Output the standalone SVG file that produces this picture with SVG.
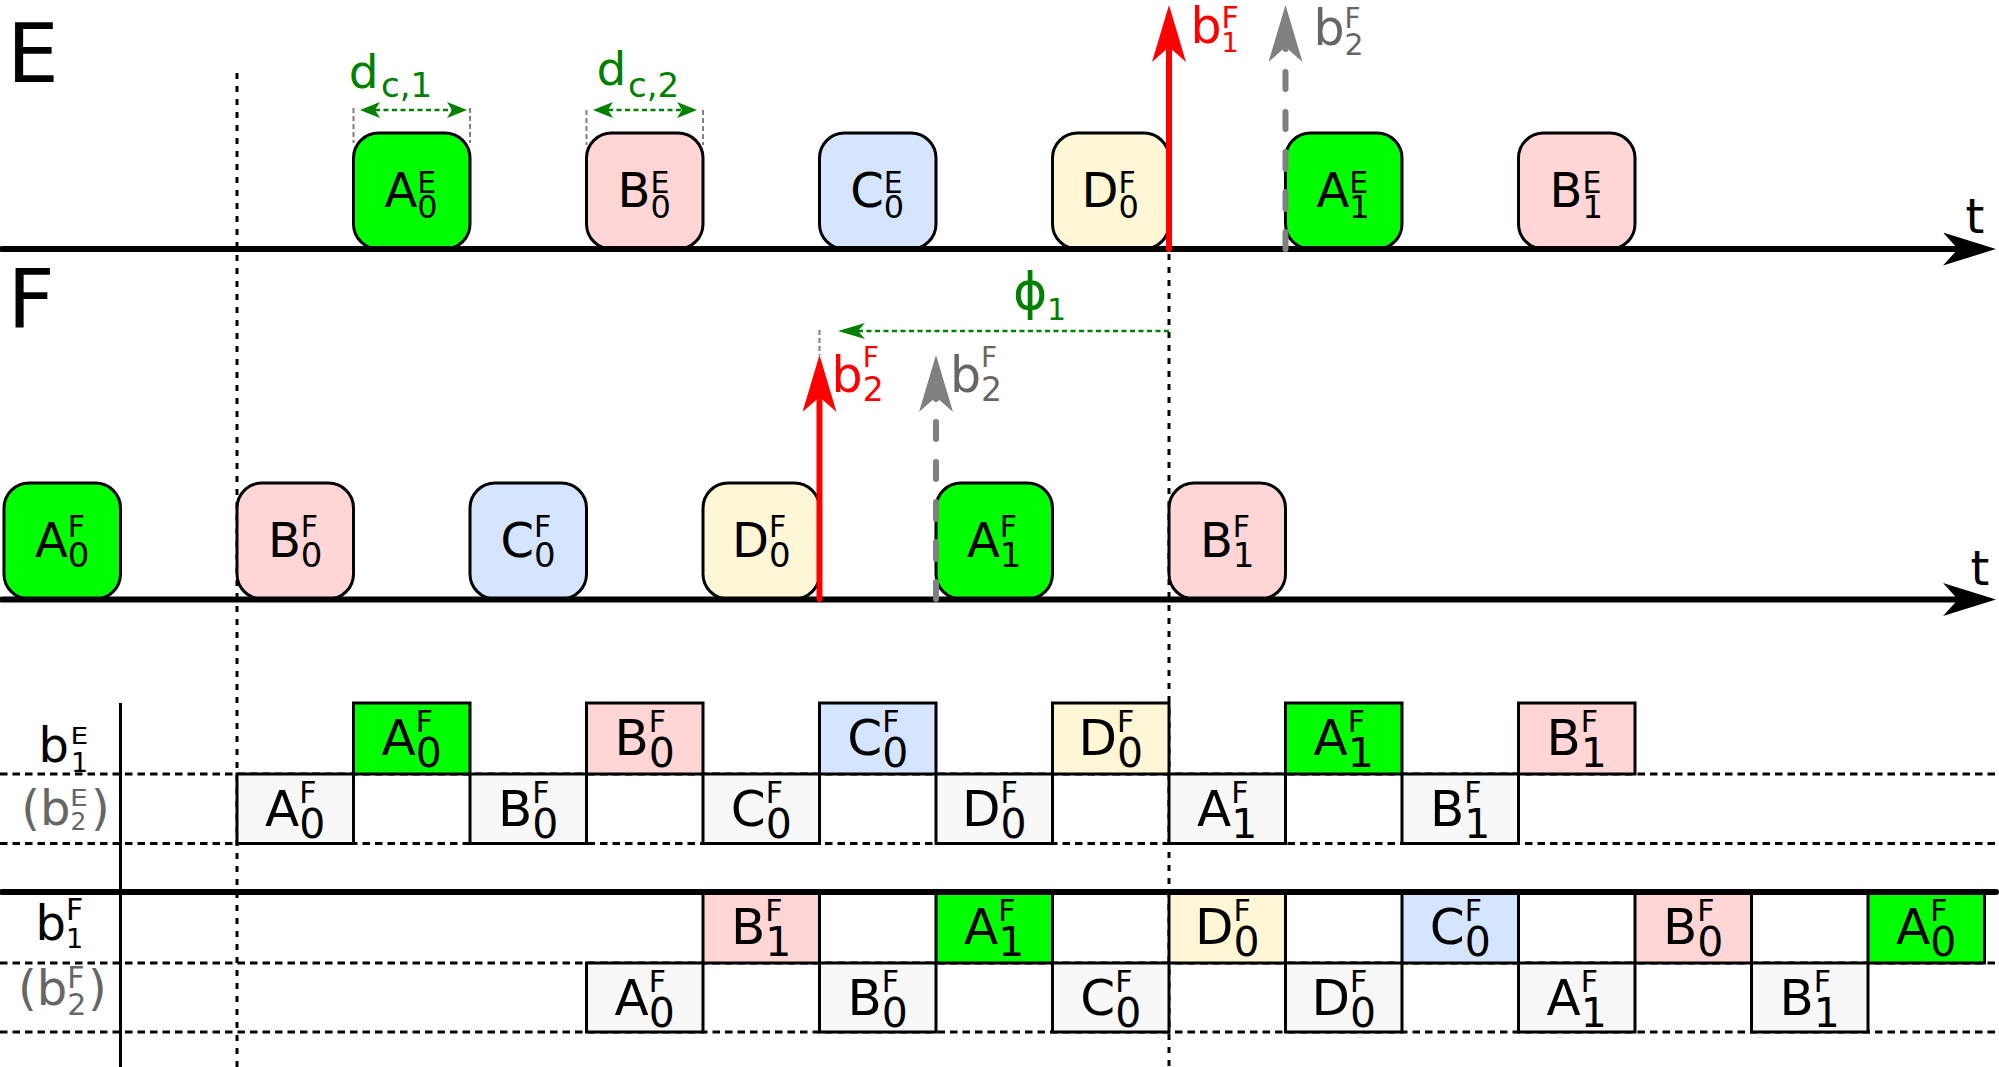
<svg xmlns="http://www.w3.org/2000/svg" width="1999" height="1067" viewBox="0 0 1999 1067">
<style>
text{font-family:'DejaVu Sans','Liberation Sans',sans-serif;fill:#000}
.rb{stroke:#000;stroke-width:3}
.tb{stroke:#000;stroke-width:3}
.g{fill:#00ff00}.p{fill:#ffd5d5}.bl{fill:#d5e5ff}.y{fill:#fff6d5}.w{fill:#f8f8f8}
.dotv{stroke:#000;stroke-width:3;stroke-dasharray:6 7;fill:none}
.doth{stroke:#000;stroke-width:3;stroke-dasharray:7.5 5;fill:none}
.ext{stroke:#808080;stroke-width:2;stroke-dasharray:5 3;fill:none}
.axis{stroke:#000;stroke-width:6;stroke-linecap:round;fill:none}
.red{stroke:#f00;stroke-width:6;stroke-linecap:round;fill:none}
.gray{stroke:#808080;stroke-width:6;stroke-linecap:round;stroke-dasharray:17 23;fill:none}
.grn{stroke:#008000;stroke-width:2.5;stroke-dasharray:5 3.5;fill:none}
.eb .m{font-size:48px}.eb .u{font-size:30px}.eb .d{font-size:32px}
.fb .m{font-size:48px}.fb .u{font-size:30px}.fb .d{font-size:34px}
.tl .m{font-size:50px}.tl .u{font-size:30px}.tl .d{font-size:41px}
.big{font-size:82px}
.tt{font-size:48px}
text.gt,.gt tspan{fill:#008000}
text.rt,.rt tspan{fill:#f00}
text.gy,.gy tspan{fill:#666}
</style>
<defs>
<marker id="mAxis" markerUnits="userSpaceOnUse" viewBox="0 0 53 33" markerWidth="53" markerHeight="33" refX="15" refY="16.5" orient="auto"><path d="M53,16.5 L0,0 L15,16.5 L0,33 Z" fill="#000"/></marker>
<marker id="mRed" markerUnits="userSpaceOnUse" viewBox="0 0 57 34" markerWidth="57" markerHeight="34" refX="15" refY="17" orient="auto"><path d="M57,17 L0,0 L15,17 L0,34 Z" fill="#f00"/></marker>
<marker id="mGray" markerUnits="userSpaceOnUse" viewBox="0 0 57 34" markerWidth="57" markerHeight="34" refX="15" refY="17" orient="auto"><path d="M57,17 L0,0 L15,17 L0,34 Z" fill="#808080"/></marker>
<marker id="mDc" markerUnits="userSpaceOnUse" viewBox="0 0 20 16" markerWidth="20" markerHeight="16" refX="5" refY="8" orient="auto-start-reverse"><path d="M20,8 L0,0 L5,8 L0,16 Z" fill="#008000"/></marker>
<marker id="mPhi" markerUnits="userSpaceOnUse" viewBox="0 0 27 16" markerWidth="27" markerHeight="16" refX="7" refY="8" orient="auto"><path d="M27,8 L0,0 L7,8 L0,16 Z" fill="#008000"/></marker>
</defs>

<g id="grid">
<path class="dotv" d="M237,73 V1067 M1169,254 V1067"/>
<path class="doth" d="M0,774 H1999 M0,843.5 H1999 M0,963 H1999 M0,1032 H1999"/>
<path d="M120.5,703 V1067" stroke="#000" stroke-width="3"/>
</g>

<g id="titles">
<text class="big" x="7" y="82">E</text>
<text class="big" x="7.6" y="328">F</text>
<text class="tt" x="1965.5" y="233">t</text>
<text class="tt" x="1970.5" y="585">t</text>
</g>

<g id="row-labels">
<text><tspan x="38.6" y="762" font-size="48">b</tspan><tspan x="71" y="772" font-size="27">1</tspan></text>
<text transform="translate(70.5,744) scale(1,0.8)" font-size="28">E</text>
<text class="gy"><tspan x="21.2" y="825" font-size="48">(b</tspan><tspan x="70.4" y="830" font-size="25">2</tspan><tspan x="91" y="825" font-size="48">)</tspan></text>
<text class="gy" transform="translate(70,806) scale(1,0.8)" font-size="28">E</text>
<text><tspan x="35.6" y="940" font-size="48">b</tspan><tspan x="66.1" y="920" font-size="30">F</tspan><tspan x="66.1" y="948" font-size="27">1</tspan></text>
<text class="gy"><tspan x="18" y="1005" font-size="48">(b</tspan><tspan x="67.2" y="988" font-size="30">F</tspan><tspan x="67.2" y="1015" font-size="30">2</tspan><tspan x="88" y="1005" font-size="48">)</tspan></text>
</g>

<g id="table-b1E" class="tl">
<rect class="tb g" x="353.5" y="703" width="116.5" height="71"/>
<text><tspan class="m" x="381.6" y="755">A</tspan><tspan class="u" x="415.8" y="731.5">F</tspan><tspan class="d" x="415.8" y="766.5">0</tspan></text>
<rect class="tb p" x="586.5" y="703" width="116.5" height="71"/>
<text><tspan class="m" x="614.55" y="755">B</tspan><tspan class="u" x="648.85" y="731.5">F</tspan><tspan class="d" x="648.85" y="766.5">0</tspan></text>
<rect class="tb bl" x="819.5" y="703" width="116.5" height="71"/>
<text><tspan class="m" x="847.25" y="755">C</tspan><tspan class="u" x="882.15" y="731.5">F</tspan><tspan class="d" x="882.15" y="766.5">0</tspan></text>
<rect class="tb y" x="1052.5" y="703" width="116.5" height="71"/>
<text><tspan class="m" x="1078.45" y="755">D</tspan><tspan class="u" x="1116.95" y="731.5">F</tspan><tspan class="d" x="1116.95" y="766.5">0</tspan></text>
<rect class="tb g" x="1285.5" y="703" width="116.5" height="71"/>
<text><tspan class="m" x="1313.6" y="755">A</tspan><tspan class="u" x="1347.8" y="731.5">F</tspan><tspan class="d" x="1347.8" y="766.5">1</tspan></text>
<rect class="tb p" x="1518.5" y="703" width="116.5" height="71"/>
<text><tspan class="m" x="1546.55" y="755">B</tspan><tspan class="u" x="1580.85" y="731.5">F</tspan><tspan class="d" x="1580.85" y="766.5">1</tspan></text>
</g>

<g id="table-b2E" class="tl">
<rect class="tb w" x="237" y="774" width="116.5" height="69.5"/>
<text><tspan class="m" x="265.1" y="826">A</tspan><tspan class="u" x="299.3" y="802.5">F</tspan><tspan class="d" x="299.3" y="837.5">0</tspan></text>
<rect class="tb w" x="470" y="774" width="116.5" height="69.5"/>
<text><tspan class="m" x="498.05" y="826">B</tspan><tspan class="u" x="532.35" y="802.5">F</tspan><tspan class="d" x="532.35" y="837.5">0</tspan></text>
<rect class="tb w" x="703" y="774" width="116.5" height="69.5"/>
<text><tspan class="m" x="730.75" y="826">C</tspan><tspan class="u" x="765.65" y="802.5">F</tspan><tspan class="d" x="765.65" y="837.5">0</tspan></text>
<rect class="tb w" x="936" y="774" width="116.5" height="69.5"/>
<text><tspan class="m" x="961.95" y="826">D</tspan><tspan class="u" x="1000.45" y="802.5">F</tspan><tspan class="d" x="1000.45" y="837.5">0</tspan></text>
<rect class="tb w" x="1169" y="774" width="116.5" height="69.5"/>
<text><tspan class="m" x="1197.1" y="826">A</tspan><tspan class="u" x="1231.3" y="802.5">F</tspan><tspan class="d" x="1231.3" y="837.5">1</tspan></text>
<rect class="tb w" x="1402" y="774" width="116.5" height="69.5"/>
<text><tspan class="m" x="1430.05" y="826">B</tspan><tspan class="u" x="1464.35" y="802.5">F</tspan><tspan class="d" x="1464.35" y="837.5">1</tspan></text>
</g>

<g id="table-b1F" class="tl">
<rect class="tb p" x="703" y="892" width="116.5" height="71"/>
<text><tspan class="m" x="731.05" y="944">B</tspan><tspan class="u" x="765.35" y="920.5">F</tspan><tspan class="d" x="765.35" y="955.5">1</tspan></text>
<rect class="tb g" x="936" y="892" width="116.5" height="71"/>
<text><tspan class="m" x="964.1" y="944">A</tspan><tspan class="u" x="998.3" y="920.5">F</tspan><tspan class="d" x="998.3" y="955.5">1</tspan></text>
<rect class="tb y" x="1169" y="892" width="116.5" height="71"/>
<text><tspan class="m" x="1194.95" y="944">D</tspan><tspan class="u" x="1233.45" y="920.5">F</tspan><tspan class="d" x="1233.45" y="955.5">0</tspan></text>
<rect class="tb bl" x="1402" y="892" width="116.5" height="71"/>
<text><tspan class="m" x="1429.75" y="944">C</tspan><tspan class="u" x="1464.65" y="920.5">F</tspan><tspan class="d" x="1464.65" y="955.5">0</tspan></text>
<rect class="tb p" x="1635" y="892" width="116.5" height="71"/>
<text><tspan class="m" x="1663.05" y="944">B</tspan><tspan class="u" x="1697.35" y="920.5">F</tspan><tspan class="d" x="1697.35" y="955.5">0</tspan></text>
<rect class="tb g" x="1868" y="892" width="116.5" height="71"/>
<text><tspan class="m" x="1896.1" y="944">A</tspan><tspan class="u" x="1930.3" y="920.5">F</tspan><tspan class="d" x="1930.3" y="955.5">0</tspan></text>
</g>

<g id="table-b2F" class="tl">
<rect class="tb w" x="586.5" y="963" width="116.5" height="69"/>
<text><tspan class="m" x="614.6" y="1015">A</tspan><tspan class="u" x="648.8" y="991.5">F</tspan><tspan class="d" x="648.8" y="1026.5">0</tspan></text>
<rect class="tb w" x="819.5" y="963" width="116.5" height="69"/>
<text><tspan class="m" x="847.55" y="1015">B</tspan><tspan class="u" x="881.85" y="991.5">F</tspan><tspan class="d" x="881.85" y="1026.5">0</tspan></text>
<rect class="tb w" x="1052.5" y="963" width="116.5" height="69"/>
<text><tspan class="m" x="1080.25" y="1015">C</tspan><tspan class="u" x="1115.15" y="991.5">F</tspan><tspan class="d" x="1115.15" y="1026.5">0</tspan></text>
<rect class="tb w" x="1285.5" y="963" width="116.5" height="69"/>
<text><tspan class="m" x="1311.45" y="1015">D</tspan><tspan class="u" x="1349.95" y="991.5">F</tspan><tspan class="d" x="1349.95" y="1026.5">0</tspan></text>
<rect class="tb w" x="1518.5" y="963" width="116.5" height="69"/>
<text><tspan class="m" x="1546.6" y="1015">A</tspan><tspan class="u" x="1580.8" y="991.5">F</tspan><tspan class="d" x="1580.8" y="1026.5">1</tspan></text>
<rect class="tb w" x="1751.5" y="963" width="116.5" height="69"/>
<text><tspan class="m" x="1779.55" y="1015">B</tspan><tspan class="u" x="1813.85" y="991.5">F</tspan><tspan class="d" x="1813.85" y="1026.5">1</tspan></text>
</g>

<g id="ext-lines">
<path class="ext" d="M353.5,108 V143 M470,108 V143 M586.5,110 V145 M703,110 V145 M819.5,330 V355"/>
</g>

<g id="E-A0" class="eb"><rect class="rb g" x="353.5" y="133" width="116.5" height="116" rx="25"/><text><tspan class="m" x="384.5" y="207">A</tspan><tspan class="u" x="417.3" y="193">E</tspan><tspan class="d" x="417.3" y="218">0</tspan></text></g>
<g id="E-B0" class="eb"><rect class="rb p" x="586.5" y="133" width="116.5" height="116" rx="25"/><text><tspan class="m" x="617.5" y="207">B</tspan><tspan class="u" x="650.4" y="193">E</tspan><tspan class="d" x="650.4" y="218">0</tspan></text></g>
<g id="E-C0" class="eb"><rect class="rb bl" x="819.5" y="133" width="116.5" height="116" rx="25"/><text><tspan class="m" x="850.2" y="207">C</tspan><tspan class="u" x="883.7" y="193">E</tspan><tspan class="d" x="883.7" y="218">0</tspan></text></g>
<g id="E-D0" class="eb"><rect class="rb y" x="1052.5" y="133" width="116.5" height="116" rx="25"/><text><tspan class="m" x="1081.5" y="207">D</tspan><tspan class="u" x="1118.5" y="193">F</tspan><tspan class="d" x="1118.5" y="218">0</tspan></text></g>
<g id="E-A1" class="eb"><rect class="rb g" x="1285.5" y="133" width="116.5" height="116" rx="25"/><text><tspan class="m" x="1316.5" y="207">A</tspan><tspan class="u" x="1349.3" y="193">E</tspan><tspan class="d" x="1349.3" y="218">1</tspan></text></g>
<g id="E-B1" class="eb"><rect class="rb p" x="1518.5" y="133" width="116.5" height="116" rx="25"/><text><tspan class="m" x="1549.5" y="207">B</tspan><tspan class="u" x="1582.4" y="193">E</tspan><tspan class="d" x="1582.4" y="218">1</tspan></text></g>

<g id="F-A0" class="fb"><rect class="rb g" x="4" y="483" width="116.5" height="116" rx="25"/><text><tspan class="m" x="35" y="557">A</tspan><tspan class="u" x="67.8" y="537">F</tspan><tspan class="d" x="67.8" y="567">0</tspan></text></g>
<g id="F-B0" class="fb"><rect class="rb p" x="237" y="483" width="116.5" height="116" rx="25"/><text><tspan class="m" x="267.9" y="557">B</tspan><tspan class="u" x="300.8" y="537">F</tspan><tspan class="d" x="300.8" y="567">0</tspan></text></g>
<g id="F-C0" class="fb"><rect class="rb bl" x="470" y="483" width="116.5" height="116" rx="25"/><text><tspan class="m" x="500.6" y="557">C</tspan><tspan class="u" x="534.1" y="537">F</tspan><tspan class="d" x="534.1" y="567">0</tspan></text></g>
<g id="F-D0" class="fb"><rect class="rb y" x="703" y="483" width="116.5" height="116" rx="25"/><text><tspan class="m" x="731.9" y="557">D</tspan><tspan class="u" x="768.9" y="537">F</tspan><tspan class="d" x="768.9" y="567">0</tspan></text></g>
<g id="F-A1" class="fb"><rect class="rb g" x="936" y="483" width="116.5" height="116" rx="25"/><text><tspan class="m" x="967" y="557">A</tspan><tspan class="u" x="999.8" y="537">F</tspan><tspan class="d" x="999.8" y="567">1</tspan></text></g>
<g id="F-B1" class="fb"><rect class="rb p" x="1169" y="483" width="116.5" height="116" rx="25"/><text><tspan class="m" x="1199.9" y="557">B</tspan><tspan class="u" x="1232.8" y="537">F</tspan><tspan class="d" x="1232.8" y="567">1</tspan></text></g>

<g id="connectors">
<path class="axis" d="M2,249 H1958" marker-end="url(#mAxis)"/>
<path class="axis" d="M2,599.5 H1958" marker-end="url(#mAxis)"/>
<path class="axis" d="M2,892 H1996"/>
<path class="red" d="M1169,249 V47" marker-end="url(#mRed)"/>
<path class="gray" d="M1285.5,249 V47" marker-end="url(#mGray)"/>
<path class="red" d="M819.5,599 V397" marker-end="url(#mRed)"/>
<path class="gray" d="M936,599 V397" marker-end="url(#mGray)"/>
<path class="grn" d="M375,110 H452" marker-start="url(#mDc)" marker-end="url(#mDc)"/>
<path class="grn" d="M608,110 H682" marker-start="url(#mDc)" marker-end="url(#mDc)"/>
<path class="grn" d="M1169,331 H858" stroke-dasharray="6 4" marker-end="url(#mPhi)"/>
</g>

<g id="arrow-labels">
<text class="rt"><tspan x="1190.5" y="43" font-size="49">b</tspan><tspan x="1221.6" y="28.3" font-size="30">F</tspan><tspan x="1221.6" y="51.7" font-size="27">1</tspan></text>
<text class="gy"><tspan x="1313.5" y="45" font-size="49">b</tspan><tspan x="1344.6" y="28.3" font-size="28">F</tspan><tspan x="1344.6" y="55" font-size="30">2</tspan></text>
<text class="rt"><tspan x="831.6" y="392" font-size="49">b</tspan><tspan x="862.7" y="367" font-size="28">F</tspan><tspan x="862.7" y="401" font-size="33">2</tspan></text>
<text class="gy"><tspan x="950" y="392" font-size="49">b</tspan><tspan x="981" y="367" font-size="28">F</tspan><tspan x="981" y="401" font-size="33">2</tspan></text>
<text class="gt"><tspan x="348.8" y="88" font-size="47">d</tspan><tspan x="381" y="97" font-size="34">c,1</tspan></text>
<text class="gt"><tspan x="596.5" y="85" font-size="47">d</tspan><tspan x="628" y="96.7" font-size="34">c,2</tspan></text>
<text class="gt"><tspan x="1013" y="309" font-size="52">ϕ</tspan><tspan x="1047" y="320" font-size="30">1</tspan></text>
</g>
</svg>
